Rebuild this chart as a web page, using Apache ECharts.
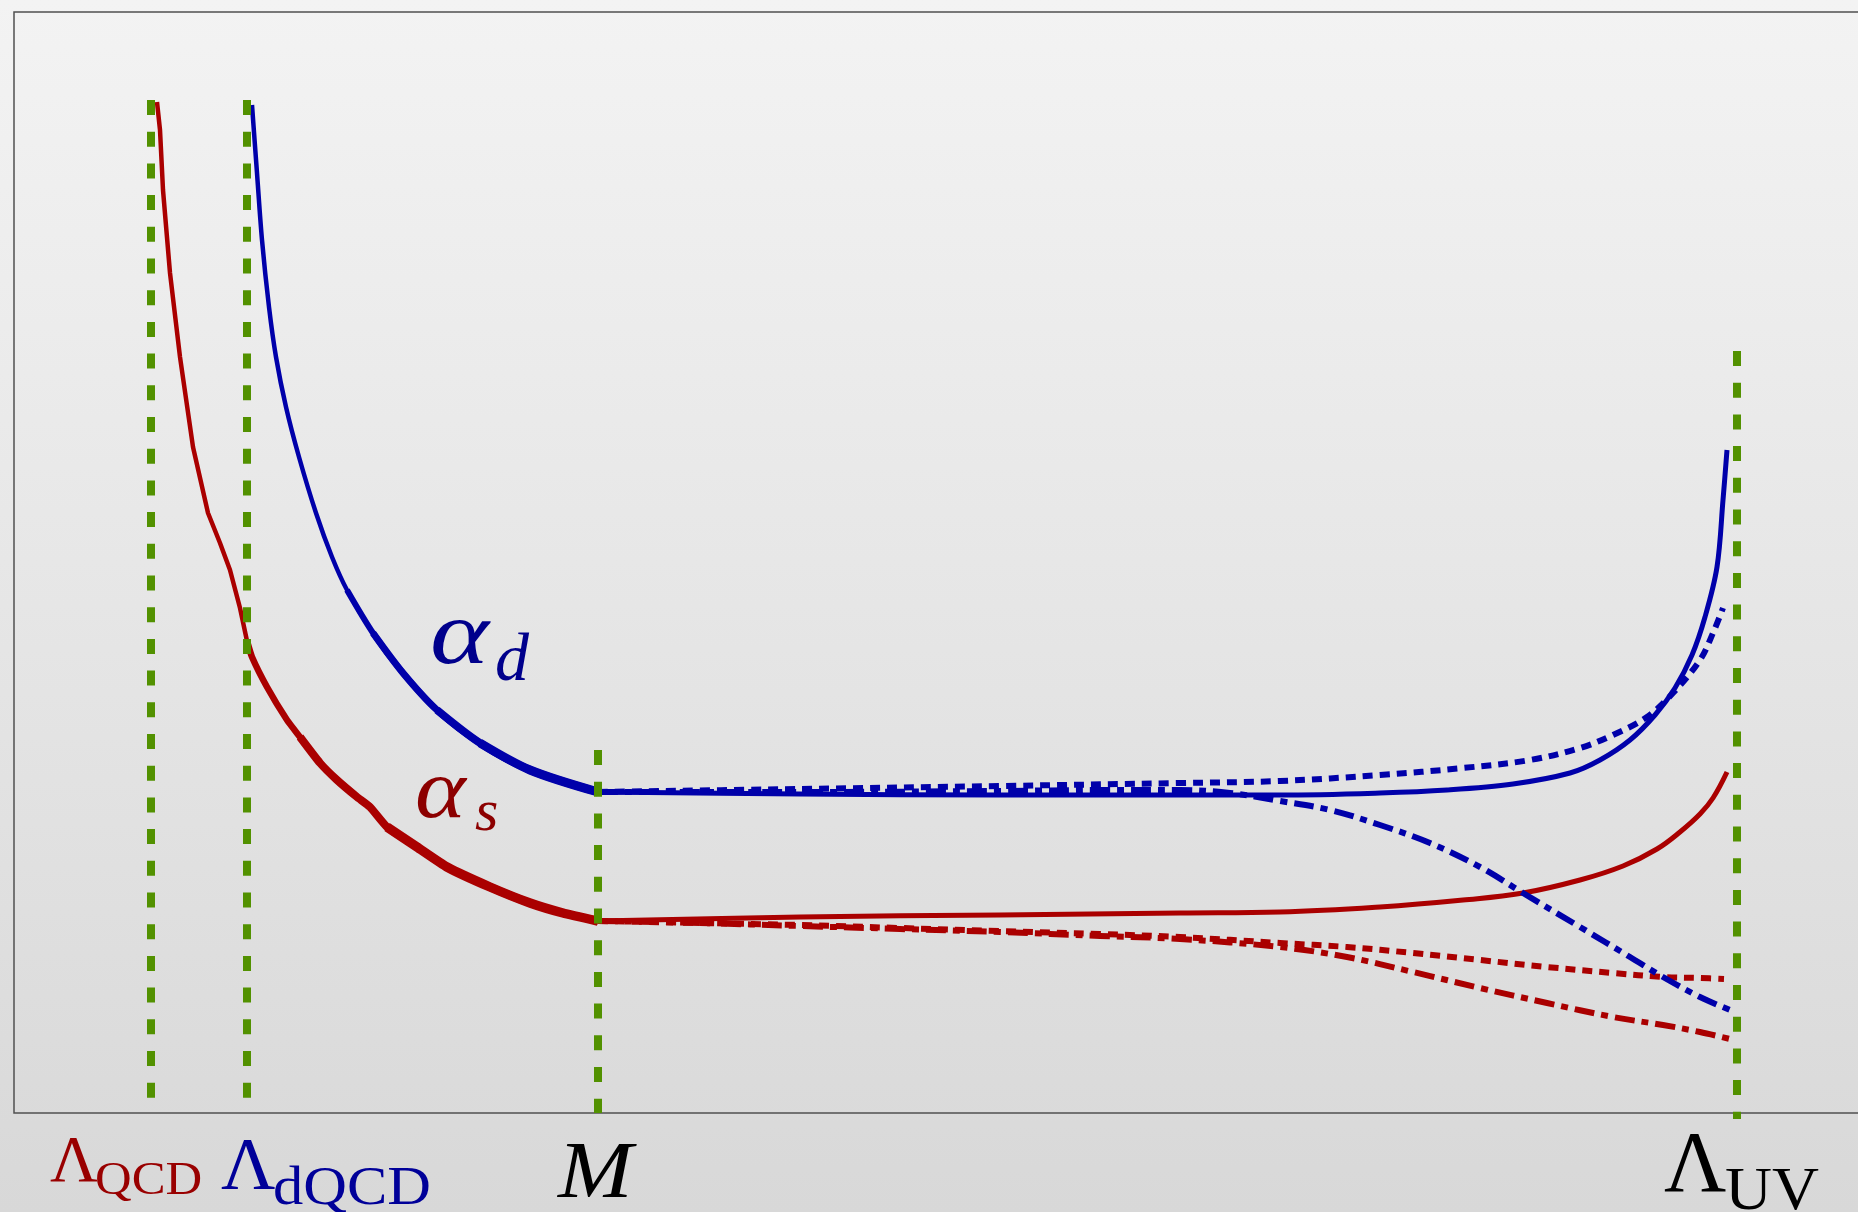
<!DOCTYPE html>
<html><head><meta charset="utf-8">
<script src="https://cdn.jsdelivr.net/npm/echarts/dist/echarts.min.js"></script>
<style>
html,body{margin:0;padding:0;width:1858px;height:1212px;overflow:hidden;background:linear-gradient(to bottom,#f3f3f3 0%,#e6e6e6 50%,#d8d8d8 100%);}
#c{width:1858px;height:1212px;}
</style>
</head><body><div id="c"></div>
<script>
// ---- scale markers (log-energy axis, arbitrary units) ----
const markerNames = ['ΛQCD', 'ΛdQCD', 'M', 'ΛUV'];
const markerX = [151, 247, 598, 1737];
const markerTop = [1013, 1013, 363, 762];
const markerBottom = [5, 5, 0, -6];

// ---- alpha_d (dark coupling) below M ----
const adLowX = [252, 257, 262, 269, 276, 286, 299, 316, 332, 347, 373, 403, 437, 480, 530, 598];
const adLowY = [1008, 940, 873, 806, 756, 706, 656, 600, 556, 523, 480, 440, 403, 370, 343, 321];

// ---- alpha_s below Lambda_dQCD ----
const asLowX = [157, 160, 163, 170, 180, 193, 208, 220, 230, 240, 247];
const asLowY = [1011, 983, 923, 840, 756, 666, 600, 570, 543, 505, 472];
// ---- alpha_s between Lambda_dQCD and M ----
const asMidX = [247, 252, 267, 287, 300, 320, 337, 357, 370, 387, 417, 447, 490, 530, 563, 598];
const asMidY = [472, 456, 426, 393, 376, 350, 333, 316, 306, 286, 266, 246, 226, 210, 200, 192];

// ---- above M: alpha_d ----
const adSolidX = [598, 800, 1000, 1180, 1280, 1380, 1447, 1513, 1570, 1600, 1630, 1655, 1675, 1692, 1705, 1717, 1723, 1727];
const adSolidY = [321, 319, 318, 318, 318, 320, 323, 329, 340, 353, 373, 398, 425, 458, 496, 546, 613, 663];
const adDotX = [598, 800, 1000, 1180, 1280, 1380, 1463, 1530, 1580, 1613, 1647, 1673, 1700, 1713, 1723];
const adDotY = [321, 324, 327, 330, 332, 338, 345, 353, 365, 378, 396, 420, 453, 480, 505];
const adDashDotX = [598, 800, 1000, 1100, 1180, 1230, 1280, 1330, 1380, 1430, 1480, 1523, 1580, 1630, 1663, 1700, 1730];
const adDashDotY = [321, 321, 322, 323, 323, 320, 312, 303, 288, 270, 246, 220, 186, 156, 136, 116, 103];

// ---- above M: alpha_s ----
const asSolidX = [598, 800, 1000, 1180, 1280, 1380, 1463, 1523, 1580, 1623, 1657, 1680, 1700, 1713, 1727];
const asSolidY = [192, 196, 198, 200, 201, 206, 213, 220, 233, 247, 264, 281, 299, 315, 341];
const asDotX = [598, 700, 800, 900, 1000, 1100, 1180, 1280, 1347, 1413, 1480, 1547, 1613, 1663, 1700, 1724];
const asDotY = [192, 190, 188, 185, 182, 179, 176, 170, 166, 160, 153, 146, 140, 136, 135, 134];
const asDashDotX = [598, 700, 800, 900, 1000, 1100, 1180, 1280, 1347, 1413, 1480, 1547, 1613, 1663, 1700, 1730];
const asDashDotY = [192, 190, 187, 184, 181, 177, 174, 166, 156, 141, 125, 110, 96, 88, 81, 74];

const BLUE = '#0000aa', RED = '#aa0000', GREEN = '#529100';
const FONT = '"Liberation Serif", "DejaVu Serif", serif';

function pts(xs, ys, a, b) {
  const out = [];
  for (let i = a; i <= b; i++) out.push([xs[i], ys[i]]);
  return out;
}
function line(data, color, width, type, smooth, z) {
  return {
    type: 'line', data: data, symbol: 'none', showSymbol: false, silent: true,
    animation: false, clip: false, smooth: smooth || false, z: z || 2,
    lineStyle: { color: color, width: width, type: type || 'solid', cap: 'butt', join: 'round' }
  };
}

const series = [];
// alpha_s thin part
series.push(line(pts(asLowX, asLowY, 0, asLowX.length - 1), RED, 4.5, 'solid', false));
// alpha_s thick part: overlapping overlays, each running to M, getting thicker
[[0, 6.5], [4, 8], [9, 9.5]].forEach(s => series.push(line(pts(asMidX, asMidY, s[0], asMidX.length - 1), RED, s[1], 'solid', 0.15)));
// alpha_d below M: overlays that thicken towards M
[[0, 4.5], [9, 6], [10, 7], [12, 8], [13, 9]].forEach(s => series.push(line(pts(adLowX, adLowY, s[0], adLowX.length - 1), BLUE, s[1], 'solid', 0.3)));
// above M
const dotted = [10, 7], dashDot = [20, 7, 7, 7];
series.push(line(pts(asDotX, asDotY, 0, asDotX.length - 1), RED, 6, dotted, 0.35));
series.push(line(pts(asDashDotX, asDashDotY, 0, asDashDotX.length - 1), RED, 6, dashDot, 0.35));
series.push(line(pts(asSolidX, asSolidY, 0, asSolidX.length - 1), RED, 5, 'solid', 0.4));
series.push(line(pts(adDashDotX, adDashDotY, 0, adDashDotX.length - 1), BLUE, 6, dashDot, 0.35));
series.push(line(pts(adDotX, adDotY, 0, adDotX.length - 1), BLUE, 6, dotted, 0.35));
series.push(line(pts(adSolidX, adSolidY, 0, adSolidX.length - 1), BLUE, 5, 'solid', 0.35));
// green scale markers
markerX.forEach((x, i) => {
  series.push(line([[x, markerTop[i]], [x, markerBottom[i]]], GREEN, 8, [15, 16.7], false, 5));
});

function txt(str, x, baseline, size, color, italic, sx) {
  return {
    type: 'text', x: x, y: baseline - 0.34 * size, z: 10, silent: true, scaleX: sx || 1,
    style: {
      text: str, fill: color, align: 'left', verticalAlign: 'middle',
      font: (italic ? 'italic ' : '') + size + 'px ' + FONT
    }
  };
}

const graphics = [
  // plot frame (open on the right, it runs off the page)
  { type: 'rect', z: 0, silent: true, shape: { x: 14, y: 12, width: 1900, height: 1101 },
    style: { fill: 'none', stroke: '#505050', lineWidth: 1.5 } },
  txt('Λ', 50, 1186, 66, '#990000'),
  txt('QCD', 95, 1198, 47, '#990000', false, 1.08),
  txt('Λ', 221, 1195, 75, '#000099'),
  txt('dQCD', 273, 1208, 54, '#000099', false, 1.12),
  txt('M', 558, 1203, 80, '#000000', true, 1.12),
  txt('Λ', 1664, 1198, 86, '#000000'),
  txt('UV', 1725, 1214, 62, '#000000', false, 1.05),
  txt('α', 430, 670, 92, '#00008c', true, 1.22),
  txt('d', 495, 685, 68, '#00008c', true),
  txt('α', 415, 823, 84, '#8c0000', true, 1.15),
  txt('s', 475, 835, 60, '#8c0000', true)
];

const chart = echarts.init(document.getElementById('c'), null, { renderer: 'canvas' });
chart.setOption({
  animation: false,
  backgroundColor: 'transparent',
  grid: { left: 14, top: 12, right: 0, bottom: 99, show: false },
  xAxis: { type: 'value', min: 14, max: 1858, show: false },
  yAxis: { type: 'value', min: 0, max: 1101, show: false },
  series: series,
  graphic: graphics
});
</script>
</body></html>
